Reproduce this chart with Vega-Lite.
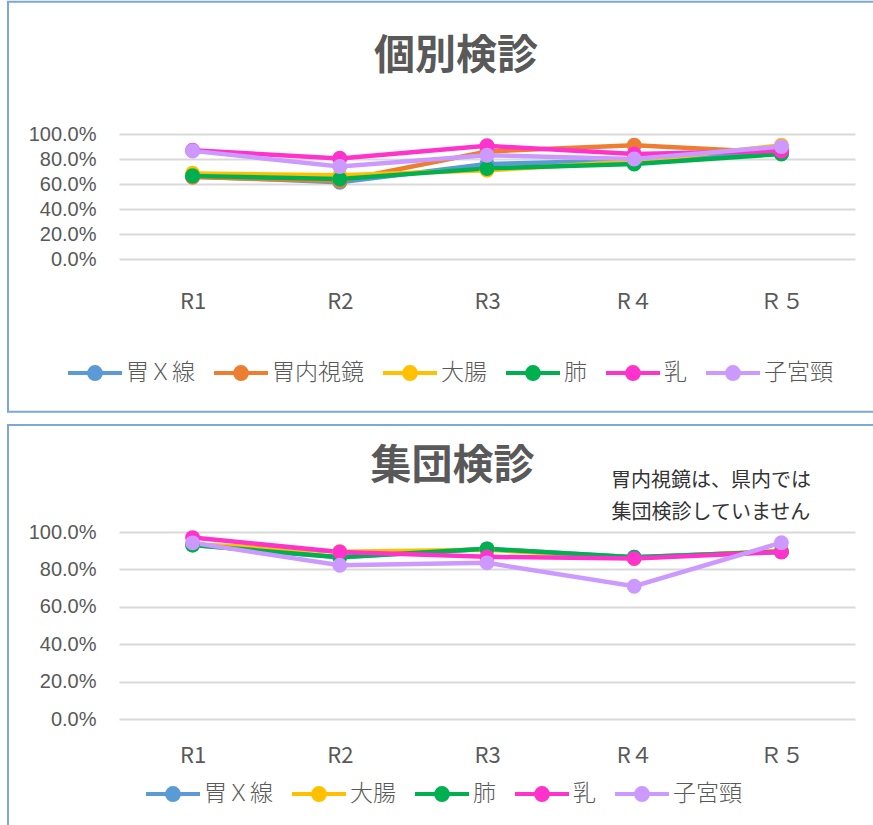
{
  "$schema": "https://vega.github.io/schema/vega-lite/v6.json",
  "padding": {"left": 7, "top": 0, "right": 0, "bottom": 0},
  "background": "white",
  "spacing": 10,
  "config": {
    "font": "Noto Sans CJK JP",
    "view": {"stroke": null},
    "legend": {
      "orient": "none",
      "direction": "horizontal",
      "title": null,
      "padding": 0,
      "columnPadding": 11,
      "labelOffset": 2,
      "labelFontSize": 23,
      "labelFontWeight": 300,
      "labelColor": "#595959",
      "labelFont": "Noto Sans CJK JP",
      "symbolType": "M-1,0L1,0M-0.22,0A0.22,0.22,0,1,1,0.22,0A0.22,0.22,0,1,1,-0.22,0Z",
      "symbolSize": 2916,
      "symbolStrokeWidth": 4
    }
  },
  "datasets": {
    "kobetsu": [
      {"s": "胃Ｘ線", "r": "R1", "v": 0.66}, {"s": "胃Ｘ線", "r": "R2", "v": 0.615}, {"s": "胃Ｘ線", "r": "R3", "v": 0.76}, {"s": "胃Ｘ線", "r": "R４", "v": 0.79}, {"s": "胃Ｘ線", "r": "Ｒ５", "v": 0.86},
      {"s": "胃内視鏡", "r": "R1", "v": 0.655}, {"s": "胃内視鏡", "r": "R2", "v": 0.625}, {"s": "胃内視鏡", "r": "R3", "v": 0.86}, {"s": "胃内視鏡", "r": "R４", "v": 0.91}, {"s": "胃内視鏡", "r": "Ｒ５", "v": 0.85},
      {"s": "大腸", "r": "R1", "v": 0.685}, {"s": "大腸", "r": "R2", "v": 0.67}, {"s": "大腸", "r": "R3", "v": 0.71}, {"s": "大腸", "r": "R４", "v": 0.78}, {"s": "大腸", "r": "Ｒ５", "v": 0.91},
      {"s": "肺", "r": "R1", "v": 0.665}, {"s": "肺", "r": "R2", "v": 0.64}, {"s": "肺", "r": "R3", "v": 0.725}, {"s": "肺", "r": "R４", "v": 0.76}, {"s": "肺", "r": "Ｒ５", "v": 0.84},
      {"s": "乳", "r": "R1", "v": 0.87}, {"s": "乳", "r": "R2", "v": 0.805}, {"s": "乳", "r": "R3", "v": 0.905}, {"s": "乳", "r": "R４", "v": 0.84}, {"s": "乳", "r": "Ｒ５", "v": 0.865},
      {"s": "子宮頸", "r": "R1", "v": 0.865}, {"s": "子宮頸", "r": "R2", "v": 0.74}, {"s": "子宮頸", "r": "R3", "v": 0.83}, {"s": "子宮頸", "r": "R４", "v": 0.80}, {"s": "子宮頸", "r": "Ｒ５", "v": 0.90}
    ],
    "shudan": [
      {"s": "胃Ｘ線", "r": "R1", "v": 0.93}, {"s": "胃Ｘ線", "r": "R2", "v": 0.865}, {"s": "胃Ｘ線", "r": "R3", "v": 0.91}, {"s": "胃Ｘ線", "r": "R４", "v": 0.865}, {"s": "胃Ｘ線", "r": "Ｒ５", "v": 0.895},
      {"s": "大腸", "r": "R1", "v": 0.935}, {"s": "大腸", "r": "R2", "v": 0.895}, {"s": "大腸", "r": "R3", "v": 0.905}, {"s": "大腸", "r": "R４", "v": 0.86}, {"s": "大腸", "r": "Ｒ５", "v": 0.90},
      {"s": "肺", "r": "R1", "v": 0.93}, {"s": "肺", "r": "R2", "v": 0.865}, {"s": "肺", "r": "R3", "v": 0.91}, {"s": "肺", "r": "R４", "v": 0.865}, {"s": "肺", "r": "Ｒ５", "v": 0.895},
      {"s": "乳", "r": "R1", "v": 0.97}, {"s": "乳", "r": "R2", "v": 0.893}, {"s": "乳", "r": "R3", "v": 0.867}, {"s": "乳", "r": "R４", "v": 0.858}, {"s": "乳", "r": "Ｒ５", "v": 0.893},
      {"s": "子宮頸", "r": "R1", "v": 0.942}, {"s": "子宮頸", "r": "R2", "v": 0.822}, {"s": "子宮頸", "r": "R3", "v": 0.835}, {"s": "子宮頸", "r": "R４", "v": 0.71}, {"s": "子宮頸", "r": "Ｒ５", "v": 0.943}
    ]
  },
  "resolve": {"scale": {"color": "independent"}},
  "vconcat": [
    {
      "width": 736,
      "height": 125,
      "resolve": {"scale": {"x": "independent", "y": "independent"}},
      "layer": [
        {
          "data": {"name": "kobetsu"},
          "mark": {"type": "line", "strokeWidth": 4.5, "point": {"filled": true, "size": 230}},
          "encoding": {
            "x": {"field": "r", "type": "ordinal", "sort": ["R1", "R2", "R3", "R４", "Ｒ５"], "scale": {"type": "point", "padding": 0.5},
                  "axis": {"title": null, "grid": false, "ticks": false, "domain": false, "labelAngle": 0, "labelFontSize": 22, "labelColor": "#595959", "labelPadding": 32}},
            "y": {"field": "v", "type": "quantitative", "scale": {"domain": [0, 1], "nice": false, "zero": false},
                  "axis": {"title": null, "values": [0, 0.2, 0.4, 0.6, 0.8, 1], "format": ".1%", "grid": true, "gridColor": "#D9D9D9", "gridWidth": 2, "ticks": false, "domain": false, "labelFont": "Liberation Sans", "labelFontSize": 20, "labelColor": "#595959", "labelPadding": 23}},
            "color": {"field": "s", "type": "nominal",
                      "scale": {"domain": ["胃Ｘ線", "胃内視鏡", "大腸", "肺", "乳", "子宮頸"], "range": ["#5B9BD5", "#ED7D31", "#FFC000", "#00B050", "#FF33CC", "#CC99FF"]},
                      "legend": {"legendX": -53, "legendY": 210,
                                 "encode": {"symbols": {"update": {"fill": {"scale": "color", "field": "value"}, "stroke": {"scale": "color", "field": "value"}, "opacity": {"value": 1}}}}}}
          }
        },
        {
          "data": {"values": [{}]},
          "mark": {"type": "rect", "filled": false, "stroke": "#7BA7DA", "strokeWidth": 2},
          "encoding": {
            "x": {"datum": -0.1508, "type": "quantitative", "scale": {"domain": [0, 1]}, "axis": null},
            "x2": {"datum": 1.0503},
            "y": {"datum": 2.0584, "type": "quantitative", "scale": {"domain": [0, 1], "nice": false, "zero": false}, "axis": null},
            "y2": {"datum": -1.2216}
          }
        },
        {
          "data": {"values": [{}]},
          "mark": {"type": "text", "fontSize": 41, "fontWeight": "bold", "color": "#595959", "align": "center", "baseline": "middle"},
          "encoding": {
            "x": {"datum": 0.4579, "type": "quantitative", "scale": {"domain": [0, 1]}, "axis": null},
            "y": {"datum": 1.6184, "type": "quantitative", "scale": {"domain": [0, 1], "nice": false, "zero": false}, "axis": null},
            "text": {"value": "個別検診"}
          }
        }
      ]
    },
    {
      "width": 736,
      "height": 187,
      "resolve": {"scale": {"x": "independent", "y": "independent"}},
      "layer": [
        {
          "data": {"name": "shudan"},
          "mark": {"type": "line", "strokeWidth": 4.5, "point": {"filled": true, "size": 220}},
          "encoding": {
            "x": {"field": "r", "type": "ordinal", "sort": ["R1", "R2", "R3", "R４", "Ｒ５"], "scale": {"type": "point", "padding": 0.5},
                  "axis": {"title": null, "grid": false, "ticks": false, "domain": false, "labelAngle": 0, "labelFontSize": 22, "labelColor": "#595959", "labelPadding": 26}},
            "y": {"field": "v", "type": "quantitative", "scale": {"domain": [0, 1], "nice": false, "zero": false},
                  "axis": {"title": null, "values": [0, 0.2, 0.4, 0.6, 0.8, 1], "format": ".1%", "grid": true, "gridColor": "#D9D9D9", "gridWidth": 2, "ticks": false, "domain": false, "labelFont": "Liberation Sans", "labelFontSize": 20, "labelColor": "#595959", "labelPadding": 23}},
            "color": {"field": "s", "type": "nominal",
                      "scale": {"domain": ["胃Ｘ線", "大腸", "肺", "乳", "子宮頸"], "range": ["#5B9BD5", "#FFC000", "#00B050", "#FF33CC", "#CC99FF"]},
                      "legend": {"legendX": 25, "legendY": 233,
                                 "encode": {"symbols": {"update": {"fill": {"scale": "color", "field": "value"}, "stroke": {"scale": "color", "field": "value"}, "opacity": {"value": 1}}}}}}
          }
        },
        {
          "data": {"values": [{}]},
          "mark": {"type": "rect", "filled": false, "stroke": "#7BA7DA", "strokeWidth": 2},
          "encoding": {
            "x": {"datum": -0.1508, "type": "quantitative", "scale": {"domain": [0, 1]}, "axis": null},
            "x2": {"datum": 1.0503},
            "y": {"datum": 1.5722, "type": "quantitative", "scale": {"domain": [0, 1], "nice": false, "zero": false}, "axis": null},
            "y2": {"datum": -0.968}
          }
        },
        {
          "data": {"values": [{}]},
          "mark": {"type": "text", "fontSize": 41, "fontWeight": "bold", "color": "#595959", "align": "center", "baseline": "middle"},
          "encoding": {
            "x": {"datum": 0.4531, "type": "quantitative", "scale": {"domain": [0, 1]}, "axis": null},
            "y": {"datum": 1.3476, "type": "quantitative", "scale": {"domain": [0, 1], "nice": false, "zero": false}, "axis": null},
            "text": {"value": "集団検診"}
          }
        },
        {
          "data": {"values": [{}]},
          "mark": {"type": "text", "fontSize": 20, "color": "#333333", "align": "center", "baseline": "middle", "lineBreak": "\n", "lineHeight": 32},
          "encoding": {
            "x": {"datum": 0.8043, "type": "quantitative", "scale": {"domain": [0, 1]}, "axis": null},
            "y": {"datum": 1.2727, "type": "quantitative", "scale": {"domain": [0, 1], "nice": false, "zero": false}, "axis": null},
            "text": {"value": "胃内視鏡は、県内では\n集団検診していません"}
          }
        }
      ]
    }
  ]
}
